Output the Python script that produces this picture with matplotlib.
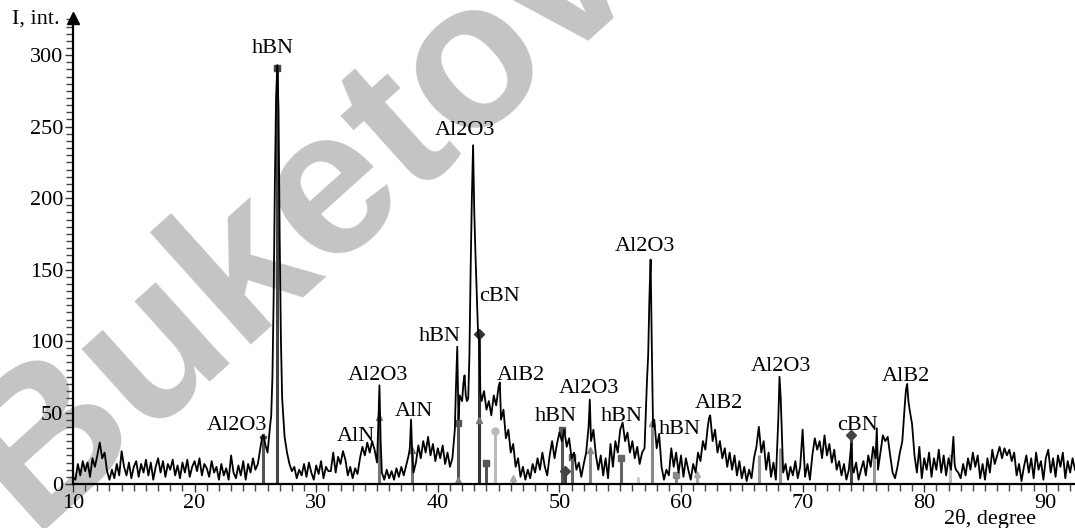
import numpy as np
import matplotlib
matplotlib.use("Agg")
import matplotlib.pyplot as plt

# ---------------- data ----------------
scan_start = 10.2
scan_step = 0.2
# intensities on the 0.2 deg scan grid, one row per degree (x.2, x.4, x.6, x.8, x+1.0)
scan_intensity = [
    3, 14, 6, 16, 9,        # 10
    15, 5, 18, 12, 20,      # 11
    29, 18, 22, 9, 3,       # 12
    10, 4, 14, 6, 23,       # 13
    12, 6, 15, 4, 12,       # 14
    16, 5, 14, 8, 17,       # 15
    6, 15, 3, 12, 18,       # 16
    8, 16, 5, 14, 10,       # 17
    17, 6, 13, 4, 15,       # 18
    8, 17, 5, 12, 16,       # 19
    9, 18, 6, 14, 11,       # 20
    5, 16, 8, 12, 3,        # 21
    14, 6, 11, 3, 20,       # 22
    8, 4, 13, 6, 16,        # 23
    3, 14, 8, 18, 10,       # 24
    14, 25, 34, 28, 22,     # 25
    40, 75, 210, 293, 170,  # 26
    60, 33, 22, 14, 9,      # 27
    12, 4, 10, 6, 14,       # 28
    5, 15, 8, 3, 13,        # 29
    7, 16, 4, 12, 9,        # 30
    9, 22, 8, 19, 14,       # 31
    23, 17, 6, 12, 4,       # 32
    11, 7, 18, 26, 20,      # 33
    29, 22, 30, 24, 15,     # 34
    69, 8, 3, 10, 4,        # 35
    9, 3, 11, 5, 12,        # 36
    6, 13, 20, 45, 8,       # 37
    15, 27, 18, 30, 22,     # 38
    33, 20, 28, 16, 25,     # 39
    18, 27, 14, 22, 12,     # 40
    18, 38, 96, 62, 58,     # 41
    76, 58, 90, 200, 190,   # 42
    133, 100, 58, 65, 52,   # 43
    58, 48, 62, 55, 68,     # 44
    45, 52, 32, 38, 22,     # 45
    28, 12, 18, 5, 12,      # 46
    3, 10, 4, 14, 8,        # 47
    18, 10, 22, 12, 6,      # 48
    20, 30, 18, 28, 36,     # 49
    30, 38, 26, 32, 18,     # 50
    22, 10, 15, 5, 14,      # 51
    22, 40, 30, 38, 20,     # 52
    10, 20, 6, 18, 4,       # 53
    28, 12, 30, 22, 38,     # 54
    43, 30, 36, 22, 30,     # 55
    18, 26, 14, 22, 25,     # 56
    72, 130, 95, 45, 25,    # 57
    35, 12, 3, 10, 6,       # 58
    25, 12, 22, 8, 20,      # 59
    5, 18, 10, 3, 14,       # 60
    8, 22, 16, 30, 24,      # 61
    40, 48, 30, 38, 22,     # 62
    30, 18, 25, 12, 22,     # 63
    10, 20, 6, 16, 4,       # 64
    12, 2, 10, 4, 18,       # 65
    26, 40, 22, 30, 10,     # 66
    22, 5, 15, 3, 45,       # 67
    60, 8, 14, 3, 12,       # 68
    6, 16, 4, 12, 38,       # 69
    5, 14, 3, 20, 32,       # 70
    24, 30, 18, 34, 20,     # 71
    28, 15, 24, 10, 16,     # 72
    6, 14, 3, 10, 28,       # 73
    8, 15, 3, 10, 16,       # 74
    6, 20, 12, 26, 18,      # 75
    10, 22, 34, 30, 33,     # 76
    20, 8, 4, 12, 22,       # 77
    30, 55, 70, 52, 42,     # 78
    20, 8, 26, 4, 18,       # 79
    10, 22, 5, 18, 10,      # 80
    24, 8, 20, 6, 18,       # 81
    10, 33, 10, 8, 4,       # 82
    14, 6, 18, 10, 22,      # 83
    12, 20, 4, 14, 3,       # 84
    18, 8, 24, 14, 20,      # 85
    26, 18, 25, 20, 24,     # 86
    16, 22, 6, 14, 2,       # 87
    12, 20, 8, 18, 4,       # 88
    22, 10, 16, 3, 18,      # 89
    24, 8, 18, 5, 20,       # 90
    12, 22, 4, 16, 8,       # 91
    18, 10,                 # 92
]

# extra points read in the peak regions
peak_theta = [10.1, 25.5, 25.7, 26.3, 26.5, 26.7, 26.9, 27.1, 35.1, 35.3, 37.7, 37.9,
              41.5, 41.7, 42.1, 42.3, 42.5, 42.7, 42.9, 43.1, 43.3, 43.5, 45.1, 52.5,
              57.3, 57.5, 57.7, 62.3, 68.1, 74.1, 76.1, 78.5, 78.7, 82.5]
peak_int = [4, 30, 33, 48, 130, 270, 262, 100, 40, 30, 25, 20,
            70, 45, 70, 62, 60, 150, 237, 160, 108, 64, 71, 59,
            90, 157, 40, 46, 75, 12, 39, 66, 58, 14]

# reference (stick) pattern lines
stick_theta = [25.6, 26.8, 35.2, 37.9, 41.7, 41.7, 43.4, 43.4, 44.0, 44.7, 46.2,
               50.2, 50.5, 51.0, 52.5, 55.1, 56.5, 57.6, 59.6, 61.3, 66.4, 68.1,
               74.0, 75.9, 82.1]
stick_height = [33, 291, 47, 24, 43, 3, 45, 105, 15, 37, 4,
                38, 9, 19, 24, 18, 5, 43, 6, 7, 20, 25,
                34, 21, 21]
stick_marker = ['P', 's', '^', '^', 's', '^', '^', 'D', 's', 'o', '^',
                's', 'D', 's', '^', 's', '', '^', 's', '^', '', '',
                'D', '', '']
stick_shade = ['#555555', '#444444', '#777777', '#777777', '#555555', '#888888', '#777777',
               '#333333', '#555555', '#bbbbbb', '#aaaaaa',
               '#555555', '#444444', '#666666', '#888888', '#666666', '#cccccc', '#888888',
               '#888888', '#aaaaaa', '#999999', '#999999',
               '#444444', '#999999', '#bbbbbb']

# phase labels
label_text = ['hBN', 'Al2O3', 'Al2O3', 'AlN', 'AlN', 'hBN', 'Al2O3', 'cBN', 'AlB2',
              'hBN', 'Al2O3', 'hBN', 'Al2O3', 'hBN', 'AlB2', 'Al2O3', 'cBN', 'AlB2']
label_x = [26.45, 23.5, 35.1, 33.3, 38.0, 40.2, 42.2, 45.1, 46.8,
           49.7, 52.4, 55.1, 57.0, 59.9, 63.1, 68.2, 74.5, 78.5]
label_y = [305, 41, 76, 33, 51, 103, 247, 131, 76,
           47, 67, 47, 166, 38, 56, 82, 41, 75]

x_ticks = [10, 20, 30, 40, 50, 60, 70, 80, 90]
y_ticks = [0, 50, 100, 150, 200, 250, 300]

# ---------------- figure ----------------
serif = ['Liberation Serif', 'DejaVu Serif']
W, H = 1075, 528
fig = plt.figure(figsize=(W / 100, H / 100), dpi=100)
fig.patch.set_facecolor('white')

# watermark
fig.text(300 / W, 1 - 215 / H, 'Buketov', fontsize=150, family='Liberation Sans',
         weight='bold', color='#c4c4c4', rotation=42, ha='center', va='center', zorder=-5)

ax = fig.add_axes([73 / W, 44 / H, 1002 / W, 466 / H])
ax.patch.set_alpha(0)
ax.set_xlim(10, 92.4)
ax.set_ylim(0, 326)

# scan curve
grid_theta = scan_start + scan_step * np.arange(len(scan_intensity))
all_theta = np.concatenate([grid_theta, np.array(peak_theta)])
all_int = np.concatenate([np.array(scan_intensity, float), np.array(peak_int, float)])
order = np.argsort(all_theta)
ax.plot(all_theta[order], all_int[order], color='black', lw=1.3, zorder=4, clip_on=False)

# stick pattern
for t, h, m, c in zip(stick_theta, stick_height, stick_marker, stick_shade):
    ax.vlines(t, 0, h, color=c, lw=2.2, zorder=3)
    if m:
        ax.plot(t, h, marker=m, ms=5, color=c, mec=c, zorder=3.5, clip_on=False)

# labels
for s, x, y in zip(label_text, label_x, label_y):
    ax.text(x, y, s, ha='center', va='center', fontsize=16, family=serif, color='black', zorder=6)

# axes style
for side in ['top', 'right']:
    ax.spines[side].set_visible(False)
for side in ['left', 'bottom']:
    ax.spines[side].set_linewidth(1.6)
    ax.spines[side].set_color('black')
ax.spines['left'].set_zorder(7)
ax.spines['bottom'].set_zorder(7)

ax.set_xticks(x_ticks)
ax.set_xticks(np.arange(10, 93, 1), minor=True)
ax.set_yticks(y_ticks)
ax.set_yticks(np.arange(0, 326, 5), minor=True)
ax.tick_params(axis='both', which='major', direction='out', length=6, width=1.0,
               color='#333333', labelsize=16, pad=1)
ax.tick_params(axis='both', which='minor', direction='out', length=5, width=1.0, color='#444444')
for lab in ax.get_xticklabels() + ax.get_yticklabels():
    lab.set_family(serif)

# arrow on y axis
ax.plot([10], [326], marker='^', ms=9, color='black', clip_on=False, zorder=8)

fig.text(36 / W, 1 - 19 / H, 'I, int.', fontsize=16, family=serif, ha='center', va='center')
fig.text(990 / W, 1 - 519 / H, '2θ, degree', fontsize=16, family=serif, ha='center', va='center')

fig.savefig('out.png', dpi=100)
